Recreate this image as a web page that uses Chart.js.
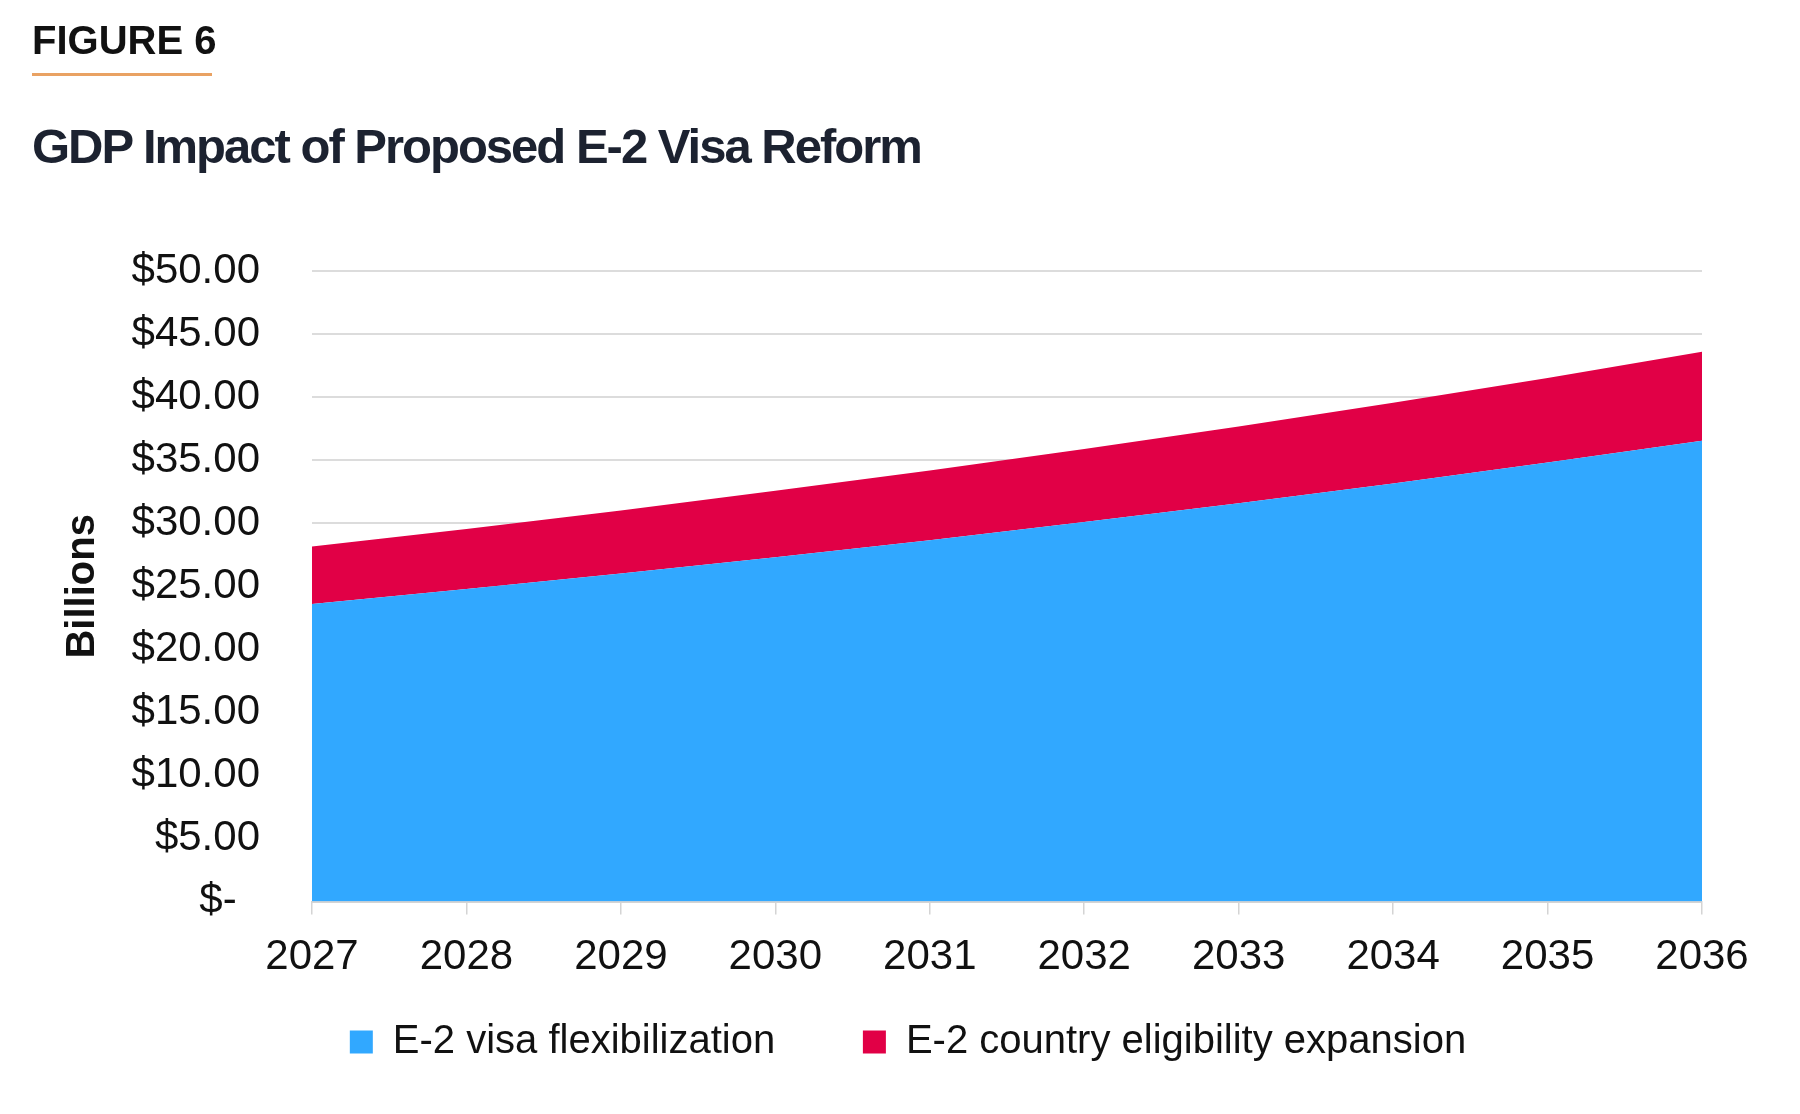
<!DOCTYPE html>
<html>
<head>
<meta charset="utf-8">
<script src="https://cdn.jsdelivr.net/npm/chart.js@4.4.1/dist/chart.umd.min.js"></script>
<style>
  body { margin: 0; background: #fff; }
  #wrap { position: relative; width: 1800px; height: 1114px; }
  #chart { position: absolute; left: 0; top: 0; }
  .fig { position: absolute; left: 32px; top: 20px; font: bold 40px/40px "Liberation Sans", Arial, sans-serif; color: #111; }
  .rule { position: absolute; left: 32px; top: 73px; width: 180px; height: 3px; background: #e9a263; }
  .title { position: absolute; left: 32px; top: 122px; font: bold 49px/49px "Liberation Sans", Arial, sans-serif; letter-spacing: -2px; color: #1c2230; white-space: nowrap; }
</style>
</head>
<body>
<div id="wrap">
  <canvas id="chart" width="1800" height="1114"></canvas>
  <div class="fig">FIGURE 6</div>
  <div class="rule"></div>
  <div class="title">GDP Impact of Proposed E-2 Visa Reform</div>
</div>
<script>
const years = ['2027', '2028', '2029', '2030', '2031', '2032', '2033', '2034', '2035', '2036'];
// billions of dollars
const flexibilization = [23.60, 24.78, 26.01, 27.30, 28.66, 30.09, 31.59, 33.16, 34.81, 36.55];
const eligibility = [4.55, 4.77, 5.01, 5.27, 5.53, 5.80, 6.09, 6.39, 6.71, 7.05];
const yTickLabels = ['$-  ', '$5.00', '$10.00', '$15.00', '$20.00', '$25.00', '$30.00', '$35.00', '$40.00', '$45.00', '$50.00'];

const BLUE = '#31a8ff';
const RED = '#e10046';

Chart.defaults.font.family = '"Liberation Sans", Arial, sans-serif';
Chart.defaults.color = '#111';

// wider gap between the two legend entries than labels.padding alone gives
function legendLabels(chart) {
    const items = Chart.defaults.plugins.legend.labels.generateLabels(chart);
    items[0].text += '      ';
    return items;
}

const config = {
    type: 'line',
    data: {
        labels: years,
        datasets: [
            {
                label: 'E-2 visa flexibilization',
                data: flexibilization,
                backgroundColor: BLUE,
                borderColor: BLUE,
                borderWidth: 0,
                pointRadius: 0,
                fill: 'origin',
            },
            {
                label: 'E-2 country eligibility expansion',
                data: eligibility,
                backgroundColor: RED,
                borderColor: RED,
                borderWidth: 0,
                pointRadius: 0,
                fill: '-1',
            }
        ]
    },
    options: {
        responsive: false,
        animation: false,
        devicePixelRatio: 1,
        layout: {padding: {top: 271, left: 16, right: 0, bottom: 42}},
        plugins: {
            tooltip: {enabled: false},
            legend: {
                position: 'bottom',
                labels: {
                    boxWidth: 23,
                    boxHeight: 23,
                    padding: 21,
                    font: {size: 40},
                    color: '#111',
                    generateLabels: legendLabels
                }
            }
        },
        scales: {
            x: {
                offset: false,
                grid: {drawOnChartArea: false, drawTicks: true, tickLength: 13, color: '#d4d4d4', lineWidth: 1.5},
                border: {display: true, color: '#d4d4d4', width: 2},
                ticks: {font: {size: 42}, padding: 18, maxRotation: 0, autoSkip: false}
            },
            y: {
                stacked: true,
                min: 0,
                max: 50,
                ticks: {
                    stepSize: 5,
                    padding: 52,
                    font: {size: 42},
                    callback: (value, index) => yTickLabels[index]
                },
                grid: {color: '#dcdcdc', lineWidth: 2, drawTicks: false},
                border: {display: false},
                title: {display: true, text: 'Billions', font: {size: 40, weight: 'bold'}, padding: {top: 43, bottom: 0}},
                afterFit: s => { s.width = 296; }
            },
            // empty axis on the right, only to hold the plot's right margin
            yRight: {
                position: 'right',
                grid: {display: false},
                ticks: {display: false},
                border: {display: false},
                afterFit: s => { s.width = 98; }
            }
        }
    }
};

const myChart = new Chart(document.getElementById('chart').getContext('2d'), config);
</script>
</body>
</html>
